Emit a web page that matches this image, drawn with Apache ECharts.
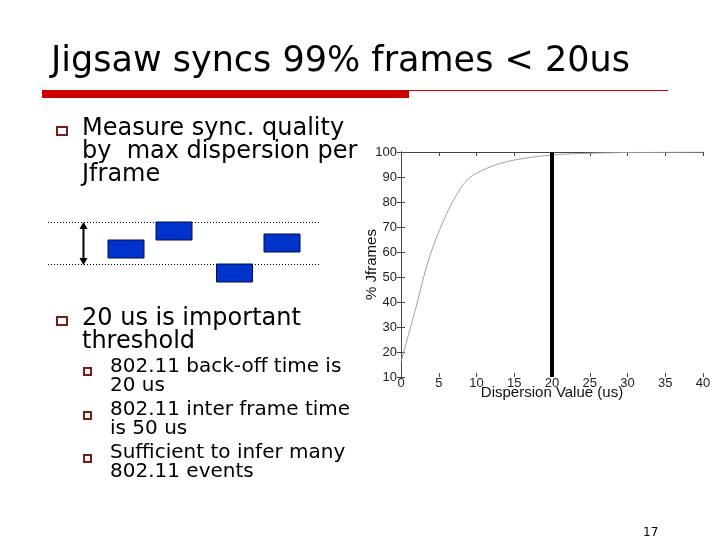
<!DOCTYPE html>
<html>
<head>
<meta charset="utf-8">
<script src="https://cdn.jsdelivr.net/npm/echarts@6/dist/echarts.min.js"></script>
<style>
  html, body { margin: 0; padding: 0; background: #fff; }
  #main { width: 720px; height: 540px; }
</style>
</head>
<body>
<div id="main"></div>
<script>
// CDF of dispersion per Jframe
var dispersion = [0, 1, 2, 3, 4, 5, 6, 7, 8, 9, 10, 11, 12, 13, 14, 15, 16, 17, 18, 19, 20, 22, 25, 30, 35, 40];
var pctFrames = [16, 27, 38, 50, 60, 68, 75, 81, 86, 89.5, 91.5, 93, 94.3, 95.3, 96.1, 96.8, 97.3, 97.8, 98.2, 98.5, 98.8, 99.2, 99.5, 99.8, 99.9, 100];
var thresholdX = 20;

var xTicks = [0, 5, 10, 15, 20, 25, 30, 35, 40];
var yTicks = [10, 20, 30, 40, 50, 60, 70, 80, 90, 100];

var textFont = 'DejaVu Sans';
var bulletColor = '#7a1c1c';

var chart = echarts.init(document.getElementById('main'));

// y is the middle of the line
function txt(x, y, s, size) {
    return {
        type: 'text', z: 1,
        style: { x: x, y: y, text: s, font: size + 'px "' + textFont + '"', fill: '#000', verticalAlign: 'middle' }
    };
}
function bullet(x, y, w, h) {
    return {
        type: 'rect', z: 1,
        shape: { x: x, y: y, width: w, height: h },
        style: { fill: '#fff', stroke: bulletColor, lineWidth: 2 }
    };
}
function box(x, y) {
    return {
        type: 'rect', z: 1,
        shape: { x: x, y: y, width: 36, height: 18 },
        style: { fill: '#0033cc', stroke: '#001040', lineWidth: 1 }
    };
}

var slide = [
    // title and rule
    txt(51, 62, 'Jigsaw syncs 99% frames < 20us', 35),
    { type: 'rect', z: 1, shape: { x: 42, y: 90, width: 367, height: 8 }, style: { fill: '#cc0000' } },
    { type: 'line', z: 1, shape: { x1: 409, y1: 90.5, x2: 668, y2: 90.5 }, style: { stroke: '#cc0000', lineWidth: 1 } },

    // first bullet
    bullet(57, 127, 10, 8),
    txt(82, 129, 'Measure sync. quality', 24),
    txt(82, 152, 'by  max dispersion per', 24),
    txt(82, 175, 'Jframe', 24),

    // dispersion sketch
    { type: 'line', z: 1, shape: { x1: 48, y1: 222.5, x2: 320, y2: 222.5 }, style: { stroke: '#000', lineWidth: 1, lineDash: [1, 2] } },
    { type: 'line', z: 1, shape: { x1: 48, y1: 264.5, x2: 320, y2: 264.5 }, style: { stroke: '#000', lineWidth: 1, lineDash: [1, 2] } },
    { type: 'line', z: 1, shape: { x1: 83.5, y1: 226, x2: 83.5, y2: 261 }, style: { stroke: '#000', lineWidth: 2 } },
    { type: 'polygon', z: 1, shape: { points: [[83.5, 222], [79.5, 229], [87.5, 229]] }, style: { fill: '#000' } },
    { type: 'polygon', z: 1, shape: { points: [[83.5, 265], [79.5, 258], [87.5, 258]] }, style: { fill: '#000' } },
    box(108, 240),
    box(156, 222),
    box(216.5, 264),
    box(264, 234),

    // second bullet
    bullet(57, 317, 10, 8),
    txt(82, 319, '20 us is important', 24),
    txt(82, 342, 'threshold', 24),
    bullet(84, 368, 7, 7),
    txt(110, 367, '802.11 back-off time is', 20),
    txt(110, 386, '20 us', 20),
    bullet(84, 412, 7, 7),
    txt(110, 410, '802.11 inter frame time', 20),
    txt(110, 429, 'is 50 us', 20),
    bullet(84, 455, 7, 7),
    txt(110, 453, 'Sufficient to infer many', 20),
    txt(110, 472, '802.11 events', 20),

    // chart backing, hides the text running under the figure
    { type: 'rect', z: 5, shape: { x: 359, y: 140, width: 361, height: 268 }, style: { fill: '#fff' } },

    txt(643, 533, '17', 12)
];

var axisFont = { fontFamily: 'Liberation Sans', fontSize: 13, color: '#222' };

var option = {
    backgroundColor: '#fff',
    animation: false,
    graphic: { elements: slide },
    grid: { left: 401, right: 17, top: 152, bottom: 163 },
    xAxis: [{
        type: 'value', z: 10, min: 0, max: 40, interval: 5,
        name: 'Dispersion Value (us)', nameLocation: 'middle', nameGap: 8, nameMoveOverlap: false,
        nameTextStyle: { fontFamily: 'Liberation Sans', fontSize: 15, color: '#111' },
        axisLine: { show: false },
        axisTick: { show: true, inside: true, length: 4, lineStyle: { color: '#444' } },
        axisLabel: Object.assign({ margin: 0, formatter: function (v) { return xTicks.indexOf(v) >= 0 ? v : ''; } }, axisFont),
        splitLine: { show: false }
    }, {
        type: 'value', z: 10, position: 'top', min: 0, max: 40, interval: 5,
        axisLine: { show: true, lineStyle: { color: '#444', width: 1 } },
        axisTick: { show: true, inside: true, length: 4, lineStyle: { color: '#444' } },
        axisLabel: { show: false }, splitLine: { show: false }
    }],
    yAxis: [{
        type: 'value', z: 10, min: 10, max: 100, interval: 10,
        name: '% Jframes', nameLocation: 'middle', nameGap: 22, nameRotate: 90, nameMoveOverlap: false,
        nameTextStyle: { fontFamily: 'Liberation Sans', fontSize: 15, color: '#111' },
        axisLine: { show: true, lineStyle: { color: '#444', width: 1 } },
        axisTick: { show: true, inside: true, length: 4, lineStyle: { color: '#444' } },
        axisLabel: Object.assign({ margin: 4, formatter: function (v) { return yTicks.indexOf(v) >= 0 ? v : ''; } }, axisFont),
        splitLine: { show: false }
    }, {
        type: 'value', z: 10, position: 'right', min: 10, max: 100, interval: 10,
        axisLine: { show: true, lineStyle: { color: '#444', width: 1 } },
        axisTick: { show: true, inside: true, length: 4, lineStyle: { color: '#444' } },
        axisLabel: { show: false }, splitLine: { show: false }
    }],
    series: [{
        type: 'line', z: 11,
        data: dispersion.map(function (d, i) { return [d, pctFrames[i]]; }),
        smooth: 0.3, symbol: 'none',
        lineStyle: { color: '#a0a0a0', width: 1 }
    }, {
        type: 'line', z: 12,
        data: [[thresholdX, 10], [thresholdX, 100]],
        symbol: 'none',
        lineStyle: { color: '#000', width: 4 }
    }]
};
chart.setOption(option);
</script>
</body>
</html>
